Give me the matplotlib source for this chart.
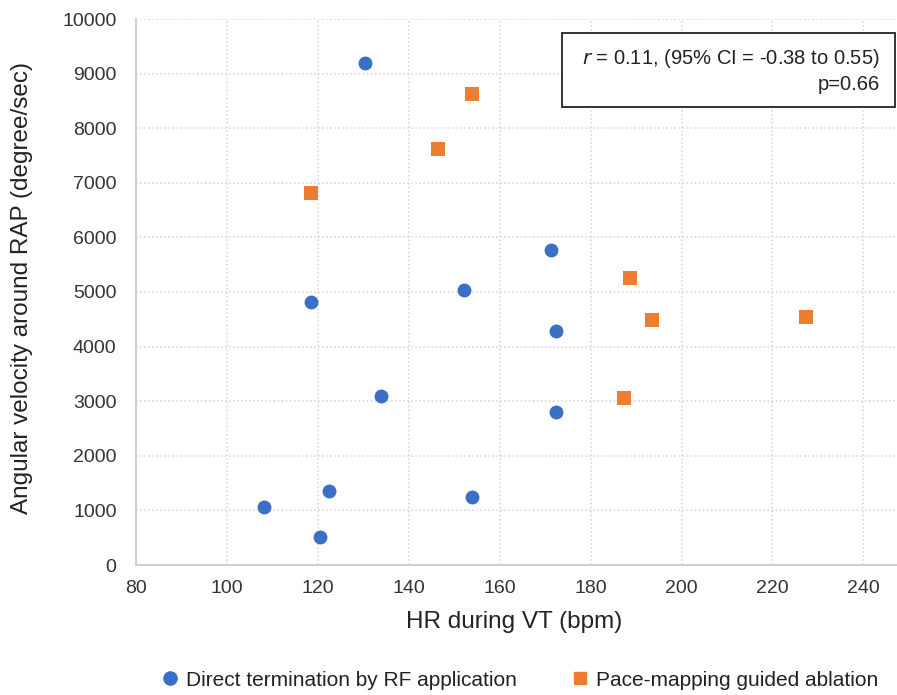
import matplotlib.pyplot as plt
from matplotlib.lines import Line2D
from matplotlib.patches import Rectangle

plt.rcParams["font.family"] = ["Liberation Sans", "DejaVu Sans"]

# Direct termination by RF application
direct_hr = [130.4, 118.5, 108.2, 120.5, 122.5, 133.9, 152.2, 153.9, 171.3, 172.3, 172.3]
direct_av = [9195, 4815, 1060, 515, 1355, 3095, 5040, 1250, 5770, 4285, 2810]

# Pace-mapping guided ablation
pace_hr = [153.9, 146.4, 118.5, 188.7, 193.5, 227.3, 187.4]
pace_av = [8630, 7620, 6810, 5265, 4480, 4540, 3055]

x_ticks = [80, 100, 120, 140, 160, 180, 200, 220, 240]
y_ticks = [0, 1000, 2000, 3000, 4000, 5000, 6000, 7000, 8000, 9000, 10000]

blue = "#3B6FC6"
orange = "#ED7D31"
W, H = 897, 695

fig = plt.figure(figsize=(8.97, 6.95), dpi=100)
ax = fig.add_axes([136 / W, 1 - 565 / H, 1 - 136 / W, (565 - 19) / H])

ax.scatter(direct_hr, direct_av, s=100, color=blue, marker="o", zorder=3, linewidths=0)
ax.scatter(pace_hr, pace_av, s=88, color=orange, marker="s", zorder=3, linewidths=0)

ax.set_xlim(80, 247.4)
ax.set_ylim(0, 10000)
ax.set_xticks(x_ticks)
ax.set_yticks(y_ticks)
ax.grid(True, color="#d4d4d4", linestyle=":", linewidth=1.1)
ax.set_axisbelow(True)
for side in ["top", "right"]:
    ax.spines[side].set_visible(False)
for side in ["left", "bottom"]:
    ax.spines[side].set_color("#d0d0d0")
    ax.spines[side].set_linewidth(1.5)
ax.tick_params(length=0, labelsize=14, labelcolor="#333333")
ax.tick_params(axis="y", pad=14)
ax.tick_params(axis="x", pad=11)

fig.text(514 / W, 1 - 622 / H, "HR during VT (bpm)", fontsize=17.5,
         color="#222222", ha="center", va="center")
fig.text(22 / W, 1 - 288 / H, "Angular velocity around RAP (degree/sec)",
         fontsize=17.5, color="#222222", ha="center", va="center", rotation=90)

# annotation box
ax.add_patch(Rectangle((562 / W, 1 - 107 / H), (895 - 562) / W, 74 / H,
                       transform=fig.transFigure, facecolor="white",
                       edgecolor="#222222", linewidth=1.3, zorder=4, clip_on=False))
fig.text(880 / W, 1 - 59 / H, "$\\it{r}$ = 0.11, (95% CI = -0.38 to 0.55)",
         fontsize=14.5, color="#222222", ha="right", va="center", zorder=5)
fig.text(880 / W, 1 - 85 / H, "p=0.66", fontsize=14.5, color="#222222",
         ha="right", va="center", zorder=5)

handles = [
    Line2D([], [], marker="o", color=blue, linestyle="none", markersize=9.5),
    Line2D([], [], marker="s", color=orange, linestyle="none", markersize=9),
]
fig.legend(handles, ["Direct termination by RF application", "Pace-mapping guided ablation"],
           loc="center", bbox_to_anchor=(520 / W, 1 - 680 / H), ncol=2, frameon=False,
           fontsize=15, handlelength=0.8, handletextpad=0.4, columnspacing=2.6,
           borderpad=0, borderaxespad=0, labelcolor="#222222")

fig.savefig("out.png", dpi=100)
